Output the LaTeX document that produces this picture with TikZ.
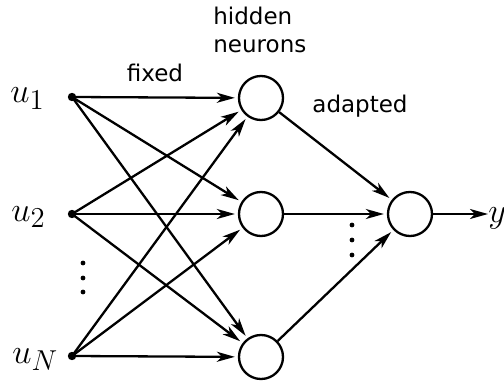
\documentclass[tikz,border=0pt]{standalone}
\usepackage{fontspec}
\setmainfont{DejaVu Sans}
\usetikzlibrary{arrows.meta}
\begin{document}
\begin{tikzpicture}[x=0.5pt,y=-0.5pt,
  neuron/.style={draw,circle,line width=1.15pt,minimum size=22pt,inner sep=0pt},
  inp/.style={circle,fill,inner sep=0pt,minimum size=4.2pt},
  conn/.style={line width=1.15pt,-{Stealth[length=9pt,width=5pt,inset=2.5pt]},shorten >=1.5pt},
  lbl/.style={font=\fontsize{11.5}{14}\selectfont,inner sep=0pt},
  mlbl/.style={font=\fontsize{19}{23}\selectfont,inner sep=0pt,anchor=base west},
  dot/.style={circle,fill,inner sep=0pt,minimum size=2.4pt}]
\useasboundingbox (0,0) rectangle (504,385);
% inputs
\node[inp] (u1) at (72,97) {};
\node[inp] (u2) at (72,214) {};
\node[inp] (uN) at (72,356) {};
\node[mlbl] (l1) at (10,103) {$u_1$};
\node[mlbl] (l2) at (11,221) {$u_2$};
\node[mlbl] (lN) at (12,363) {$u_N$};
\node[dot] (d1) at (83,263) {};
\node[dot] (d2) at (83,278) {};
\node[dot] (d3) at (83,292) {};
% hidden
\node[neuron] (h1) at (261,98) {};
\node[neuron] (h2) at (261,214) {};
\node[neuron] (h3) at (261,357) {};
% output
\node[neuron] (o) at (410,214) {};
\coordinate (y) at (488,214);
\node[mlbl] (ly) at (488,222) {$y$};
\node[dot] (e1) at (352,225) {};
\node[dot] (e2) at (352,240) {};
\node[dot] (e3) at (352,255) {};
% texts
\node[lbl,anchor=base] (fixed) at (155,82) {fixed};
\node[lbl,anchor=base west] (hid) at (213,25) {hidden};
\node[lbl,anchor=base west] (neu) at (213,53) {neurons};
\node[lbl,anchor=base] (ad) at (360,113) {adapted};
% connections
\foreach \i in {u1,u2,uN}{
  \foreach \j in {h1,h2,h3}{
    \draw[conn] (\i.center) -- (\j);
  }
}
\foreach \j in {h1,h2,h3}{
  \draw[conn] (\j) -- (o);
}
\draw[conn,shorten >=0pt] (o) -- (y);
\end{tikzpicture}
\end{document}
